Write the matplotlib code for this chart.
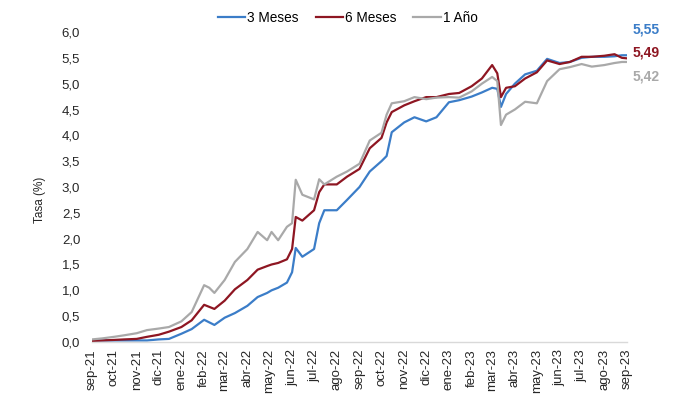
import matplotlib
matplotlib.use("Agg")
import matplotlib.pyplot as plt
import matplotlib.transforms as mtransforms
import pandas as pd

dates = ["2021-09-01","2021-09-15","2021-10-01","2021-10-15","2021-11-01","2021-11-15",
         "2021-12-01","2021-12-15","2022-01-01","2022-01-15","2022-02-01","2022-02-08",
         "2022-02-15","2022-03-01","2022-03-15","2022-04-01","2022-04-15","2022-04-28",
         "2022-05-04","2022-05-13","2022-05-25","2022-06-01","2022-06-06","2022-06-15",
         "2022-07-01","2022-07-08","2022-07-15","2022-08-01","2022-08-15","2022-09-01",
         "2022-09-15","2022-10-01","2022-10-08","2022-10-15","2022-11-01","2022-11-15",
         "2022-12-01","2022-12-15","2023-01-01","2023-01-15","2023-02-01","2023-02-15",
         "2023-03-01","2023-03-08","2023-03-13","2023-03-20","2023-04-01","2023-04-15",
         "2023-05-01","2023-05-15","2023-06-01","2023-06-15","2023-07-01","2023-07-15",
         "2023-08-01","2023-08-15","2023-08-25","2023-09-01"]

tasa_3m = [0.03,0.03,0.03,0.03,0.03,0.03,0.05,0.06,0.16,0.25,0.43,0.38,
           0.33,0.47,0.56,0.70,0.87,0.95,1.00,1.05,1.15,1.35,1.82,1.65,
           1.80,2.30,2.55,2.55,2.75,3.00,3.30,3.50,3.60,4.06,4.25,4.35,
           4.27,4.35,4.64,4.68,4.75,4.83,4.92,4.90,4.55,4.80,5.00,5.18,
           5.25,5.48,5.40,5.42,5.50,5.52,5.52,5.53,5.55,5.55]

tasa_6m = [0.02,0.03,0.04,0.05,0.06,0.10,0.14,0.20,0.29,0.42,0.72,0.68,
           0.64,0.80,1.02,1.20,1.40,1.47,1.50,1.53,1.60,1.80,2.42,2.35,
           2.55,2.90,3.05,3.05,3.20,3.35,3.75,3.95,4.25,4.45,4.58,4.66,
           4.74,4.74,4.80,4.82,4.95,5.10,5.36,5.20,4.74,4.92,4.95,5.10,
           5.22,5.45,5.38,5.42,5.52,5.52,5.54,5.57,5.50,5.49]

tasa_1a = [0.05,0.07,0.10,0.13,0.17,0.23,0.26,0.29,0.40,0.58,1.10,1.05,
           0.95,1.20,1.55,1.80,2.13,1.97,2.13,1.97,2.23,2.30,3.14,2.85,
           2.76,3.15,3.05,3.20,3.30,3.45,3.90,4.05,4.40,4.62,4.66,4.74,
           4.70,4.73,4.74,4.73,4.85,5.00,5.13,5.05,4.20,4.40,4.50,4.65,
           4.62,5.05,5.28,5.32,5.38,5.33,5.36,5.40,5.42,5.42]

series_names = ["3 Meses", "6 Meses", "1 Año"]
end_labels = ["5,55", "5,49", "5,42"]
end_label_y = [6.04, 5.61, 5.13]
month_labels = ["sep-21","oct-21","nov-21","dic-21","ene-22","feb-22","mar-22","abr-22",
                "may-22","jun-22","jul-22","ago-22","sep-22","oct-22","nov-22","dic-22",
                "ene-23","feb-23","mar-23","abr-23","may-23","jun-23","jul-23","ago-23",
                "sep-23"]

colors = ["#3B7DC8", "#8E1622", "#A9A9A9"]

plt.rcParams['font.family'] = ['Liberation Sans', 'DejaVu Sans']

x = pd.to_datetime(dates)
fig = plt.figure(figsize=(6.91, 4.05), dpi=100)
ax = fig.add_axes([92/691, 1-342/405, (627-92)/691, (342-32)/405])

for vals, name, c in zip([tasa_3m, tasa_6m, tasa_1a], series_names, colors):
    ax.plot(x, vals, color=c, lw=1.6, label=name, solid_joinstyle="round")

ax.set_xlim(pd.Timestamp("2021-09-01"), pd.Timestamp("2023-09-01"))
ax.set_ylim(0, 6)
ticks = pd.date_range("2021-09-01", "2023-09-01", freq="MS")
ax.set_xticks(ticks)
ax.set_xticklabels(month_labels, rotation=90, fontsize=9.5, color="#262626")
ax.set_yticks([i * 0.5 for i in range(13)])
ax.set_yticklabels([f"{i*0.5:.1f}".replace(".", ",") for i in range(13)], fontsize=9.5, color="#262626")
ax.tick_params(axis="y", length=0, pad=8.5)
ax.tick_params(axis="x", length=0, pad=5)

for s in ["top", "right", "left"]:
    ax.spines[s].set_visible(False)
ax.spines["bottom"].set_color("#D9D9D9")
ax.spines["bottom"].set_linewidth(1.0)

ax.set_ylabel("Tasa (%)", fontsize=8.5, color="#262626")
ax.yaxis.set_label_coords((46-92)/535, (342-200)/310)

trans = mtransforms.blended_transform_factory(ax.transAxes, ax.transData)
for lab, yy, c in zip(end_labels, end_label_y, colors):
    ax.text(1.01, yy, lab, transform=trans, color=c, fontsize=10, fontweight="bold",
            va="center", ha="left", clip_on=False)

fig.legend(loc="center", bbox_to_anchor=(0.503, 1-18/405), ncol=3, frameon=False,
           fontsize=9.8, handlelength=2.0, handletextpad=0.15, columnspacing=1.25)

fig.savefig("out.png", dpi=100)
